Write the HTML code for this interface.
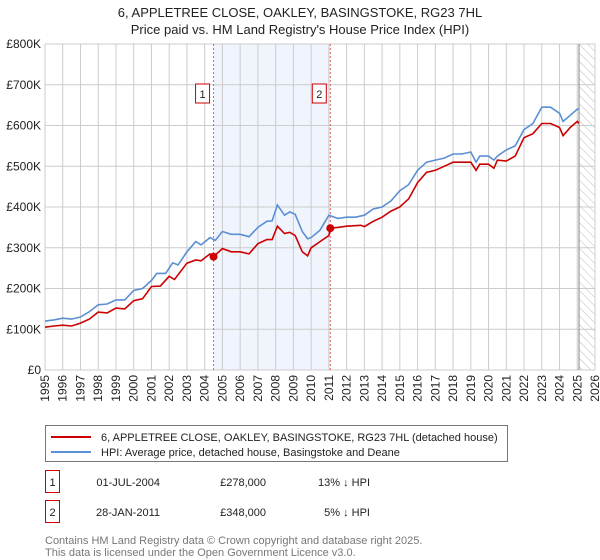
<!DOCTYPE html>
<html><head><meta charset="utf-8"><style>
body{margin:0;background:#fff;font-family:"Liberation Sans","DejaVu Sans",sans-serif;}
#wrap{position:relative;width:600px;height:560px;overflow:hidden}
</style></head><body><div id="wrap">
<svg id="chart" width="600" height="560" xmlns="http://www.w3.org/2000/svg"></svg>
</div>
<script>
const hpiYears=[1995,1995.5,1996,1996.5,1997,1997.5,1998,1998.5,1999,1999.5,2000,2000.5,2001,2001.3,2001.8,2002.2,2002.5,2003,2003.5,2003.8,2004.3,2004.6,2005,2005.5,2006,2006.5,2007,2007.5,2007.8,2008.1,2008.5,2008.8,2009.1,2009.5,2009.8,2010,2010.5,2011,2011.5,2012,2012.5,2013,2013.5,2014,2014.5,2015,2015.5,2016,2016.5,2017,2017.5,2018,2018.5,2019,2019.3,2019.5,2020,2020.3,2020.5,2021,2021.5,2022,2022.5,2023,2023.5,2024,2024.2,2024.6,2025,2025.1];
const hpiValues=[120,123,127,125,130,143,160,162,172,172,195,200,220,237,237,263,258,290,315,307,325,318,340,333,333,327,350,365,366,405,380,388,382,340,322,325,343,380,372,375,375,380,395,400,415,440,455,490,510,515,520,530,530,535,510,525,525,515,525,540,550,590,605,645,645,630,610,625,640,640];
const paidYears=[1995,1995.5,1996,1996.5,1997,1997.5,1998,1998.5,1999,1999.5,2000,2000.5,2001,2001.5,2002,2002.3,2003,2003.5,2003.8,2004.3,2004.5,2005,2005.5,2006,2006.5,2007,2007.5,2007.8,2008.1,2008.5,2008.8,2009.1,2009.5,2009.8,2010,2010.5,2011,2011.08,2011.5,2012,2012.8,2013,2013.5,2014,2014.5,2015,2015.5,2016,2016.5,2017,2017.5,2018,2018.5,2019,2019.3,2019.5,2020,2020.3,2020.5,2021,2021.5,2022,2022.5,2023,2023.5,2024,2024.2,2024.6,2025,2025.1];
const paidValues=[105,108,110,108,115,125,142,140,152,150,170,175,205,206,230,222,262,270,268,285,278,298,290,290,285,310,320,320,353,335,338,330,290,280,300,315,330,348,350,353,355,352,365,375,390,400,420,460,485,490,500,510,510,510,490,505,505,495,515,513,525,570,580,605,605,595,575,595,610,605];
const saleYears=[2004.5,2011.08];
const saleValues=[278,348];
const saleLabels=["1","2"];
const yTicks=[0,100,200,300,400,500,600,700,800];
const yTickLabels=["£0","£100K","£200K","£300K","£400K","£500K","£600K","£700K","£800K"];
const xTicks=[];for(let y=1995;y<=2026;y++)xTicks.push(y);

const X0=45,X1=595,Y0=370,Y1=44;
const sx=y=>X0+(y-1995)/(2026-1995)*(X1-X0);
const sy=v=>Y0-v/800*(Y0-Y1);
const svg=document.getElementById('chart');
const NS='http://www.w3.org/2000/svg';
function mk(tag,attrs,parent){const e=document.createElementNS(NS,tag);for(const k in attrs)e.setAttribute(k,attrs[k]);(parent||svg).appendChild(e);return e;}

let t=mk('text',{x:300,y:17,'text-anchor':'middle','font-size':'13',fill:'#222'});t.textContent='6, APPLETREE CLOSE, OAKLEY, BASINGSTOKE, RG23 7HL';


t=mk('text',{x:300,y:34,'text-anchor':'middle','font-size':'13',fill:'#222'});t.textContent="Price paid vs. HM Land Registry's House Price Index (HPI)";



let r=mk('rect',{x:sx(saleYears[0]),y:Y1,width:sx(saleYears[1])-sx(saleYears[0]),height:Y0-Y1,fill:'#f0f4fd'});


const defs=mk('defs',{});
const pat=mk('pattern',{id:'h',width:6,height:6,patternUnits:'userSpaceOnUse',patternTransform:'rotate(-45)'},defs);
mk('line',{x1:0,y1:0,x2:0,y2:6,stroke:'#bbb','stroke-width':1},pat);
r=mk('rect',{x:sx(2025.1),y:Y1,width:X1-sx(2025.1),height:Y0-Y1,fill:'url(#h)'});



xTicks.forEach(y=>{const l=mk('line',{x1:sx(y),x2:sx(y),y1:Y1,y2:Y0,stroke:'#ccc','stroke-width':1});


const tx=mk('text',{transform:`translate(${sx(y)+4},${Y0+5}) rotate(-90)`,'text-anchor':'end','font-size':'12',fill:'#222'});tx.textContent=y;

});
yTicks.forEach((v,i)=>{const l=mk('line',{x1:X0,x2:X1,y1:sy(v),y2:sy(v),stroke:'#ccc','stroke-width':1});


const tx=mk('text',{x:X0-4,y:sy(v)+4,'text-anchor':'end','font-size':'12',fill:'#222'});tx.textContent=yTickLabels[i];

});
let bl=mk('line',{x1:sx(2025.1),x2:sx(2025.1),y1:Y1,y2:Y0,stroke:'#999','stroke-width':1.2});



saleYears.forEach((y,i)=>{const l=mk('line',{x1:sx(y),x2:sx(y),y1:Y1,y2:Y0,stroke:'#e06060','stroke-width':1,'stroke-dasharray':'2,2'});


const g=mk('g',{});


mk('rect',{x:sx(y)-18,y:84,width:14,height:19,fill:'#fff',stroke:'#c00'},g);
const tx=mk('text',{x:sx(y)-11,y:98,'text-anchor':'middle','font-size':'11',fill:'#222'},g);tx.textContent=saleLabels[i];});

function line(xs,vs,color,name){const d=xs.map((y,i)=>(i?'L':'M')+sx(y).toFixed(1)+','+sy(vs[i]).toFixed(1)).join('');
const p=mk('path',{d,fill:'none',stroke:color,'stroke-width':1.6});

}
line(hpiYears,hpiValues,'#5b8fd4','hpi-line');
line(paidYears,paidValues,'#cc0000','price-paid-line');
saleYears.forEach((y,i)=>{const c=mk('circle',{cx:sx(y),cy:sy(saleValues[i]),r:4,fill:'#cc0000'});

});

const lg=mk('g',{});


mk('rect',{x:45.5,y:425.5,width:462,height:36,fill:'#fff',stroke:'#777'},lg);
mk('line',{x1:51,x2:91,y1:437,y2:437,stroke:'#cc0000','stroke-width':2},lg);
mk('line',{x1:51,x2:91,y1:452,y2:452,stroke:'#5b8fd4','stroke-width':2},lg);
t=mk('text',{x:101,y:441,'font-size':'11',fill:'#222'},lg);t.textContent='6, APPLETREE CLOSE, OAKLEY, BASINGSTOKE, RG23 7HL (detached house)';


t=mk('text',{x:101,y:456,'font-size':'11',fill:'#222'},lg);t.textContent='HPI: Average price, detached house, Basingstoke and Deane';



const rows=[["1","01-JUL-2004","£278,000","13% ↓ HPI"],["2","28-JAN-2011","£348,000","5% ↓ HPI"]];
rows.forEach((rw,i)=>{const cy=482+i*30;const g=mk('g',{});


mk('rect',{x:45.5,y:cy-11.5,width:14,height:22,fill:'#fff',stroke:'#c00'},g);
let a=mk('text',{x:52.5,y:cy+4,'text-anchor':'middle','font-size':'11',fill:'#222'},g);a.textContent=rw[0];
a=mk('text',{x:160,y:cy+4,'text-anchor':'end','font-size':'11',fill:'#222'},g);a.textContent=rw[1];
a=mk('text',{x:266,y:cy+4,'text-anchor':'end','font-size':'11',fill:'#222'},g);a.textContent=rw[2];
a=mk('text',{x:370,y:cy+4,'text-anchor':'end','font-size':'11',fill:'#222'},g);a.textContent=rw[3];});
t=mk('text',{x:45,y:544,'font-size':'11',fill:'#777'});t.textContent='Contains HM Land Registry data © Crown copyright and database right 2025.';


t=mk('text',{x:45,y:556,'font-size':'11',fill:'#777'});t.textContent='This data is licensed under the Open Government Licence v3.0.';


</script></body></html>
